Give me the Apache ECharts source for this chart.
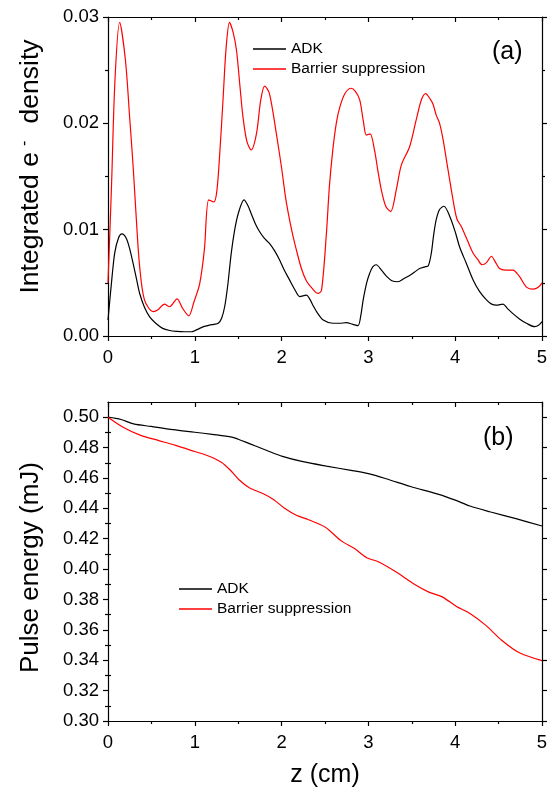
<!DOCTYPE html>
<html><head><meta charset="utf-8">
<script src="https://cdn.jsdelivr.net/npm/echarts@6/dist/echarts.min.js"></script>
<style>html,body{margin:0;padding:0;background:#fff}#c{width:551px;height:789px}</style>
</head><body><div id="c"></div>
<script>
// ---------- data ----------
const seriesNames = ['ADK', 'Barrier suppression'];

// panel (a): z (cm) vs integrated e- density
const densityADK = [[0,0.0015],[0.04,0.0050],[0.077,0.0078],[0.12,0.0092],[0.16,0.0096],[0.21,0.0092],[0.25,0.0082],[0.29,0.0068],[0.33,0.0053],[0.365,0.0040],[0.42,0.0027],[0.48,0.0018],[0.55,0.0012],[0.63,0.00072],[0.71,0.00052],[0.79,0.00044],[0.88,0.0004],[0.96,0.0004],[1.0,0.0005],[1.056,0.00072],[1.11,0.0009],[1.17,0.00103],[1.22,0.0011],[1.27,0.0012],[1.31,0.0017],[1.344,0.00275],[1.38,0.0048],[1.42,0.0078],[1.46,0.0100],[1.50,0.0115],[1.567,0.0128],[1.61,0.0123],[1.65,0.0115],[1.7,0.0105],[1.747,0.0098],[1.80,0.0092],[1.86,0.0087],[1.92,0.0080],[1.98,0.0071],[2.03,0.0062],[2.09,0.0053],[2.15,0.0044],[2.21,0.0037],[2.285,0.00385],[2.33,0.0034],[2.36,0.0029],[2.41,0.0022],[2.48,0.0015],[2.59,0.0012],[2.67,0.0012],[2.745,0.00125],[2.82,0.0011],[2.88,0.00097],[2.91,0.0018],[2.94,0.0034],[2.98,0.0050],[3.015,0.0059],[3.05,0.0065],[3.09,0.0067],[3.15,0.0062],[3.21,0.0056],[3.27,0.0052],[3.34,0.0051],[3.41,0.0054],[3.475,0.0057],[3.53,0.0060],[3.59,0.00635],[3.65,0.0065],[3.69,0.0066],[3.725,0.0078],[3.75,0.0094],[3.78,0.0109],[3.82,0.0119],[3.87,0.0122],[3.94,0.0112],[4.0,0.0098],[4.05,0.0084],[4.13,0.0068],[4.205,0.0053],[4.28,0.0042],[4.36,0.0034],[4.42,0.0030],[4.475,0.0029],[4.55,0.0030],[4.6,0.0026],[4.665,0.0021],[4.74,0.0016],[4.82,0.0012],[4.915,0.00088],[4.96,0.0010],[5.0,0.00135]];

const densityBS = [[0,0.0050],[0.04,0.0140],[0.08,0.0240],[0.134,0.0295],[0.2,0.0260],[0.25,0.0205],[0.29,0.0159],[0.33,0.0105],[0.365,0.0065],[0.42,0.0034],[0.52,0.0023],[0.58,0.0025],[0.65,0.0030],[0.71,0.00275],[0.795,0.0035],[0.86,0.0026],[0.93,0.0019],[0.99,0.0032],[1.056,0.0049],[1.11,0.0081],[1.16,0.0128],[1.22,0.0126],[1.255,0.0137],[1.29,0.0175],[1.325,0.0222],[1.36,0.0270],[1.40,0.0295],[1.44,0.0286],[1.48,0.0269],[1.52,0.0235],[1.555,0.0206],[1.6,0.0183],[1.65,0.0175],[1.71,0.0190],[1.76,0.0222],[1.805,0.0235],[1.86,0.0228],[1.94,0.0190],[2.0,0.0158],[2.05,0.0128],[2.11,0.0102],[2.17,0.0081],[2.23,0.0063],[2.285,0.0052],[2.35,0.0045],[2.42,0.0040],[2.46,0.0043],[2.516,0.0096],[2.55,0.0140],[2.59,0.0175],[2.63,0.0200],[2.67,0.0215],[2.73,0.0228],[2.80,0.0233],[2.85,0.0230],[2.90,0.0222],[2.94,0.0203],[2.977,0.0189],[3.02,0.0190],[3.07,0.0175],[3.11,0.0155],[3.15,0.0137],[3.2,0.0122],[3.257,0.0117],[3.32,0.0137],[3.38,0.0161],[3.475,0.0178],[3.55,0.0203],[3.61,0.0222],[3.66,0.0228],[3.71,0.0223],[3.745,0.0218],[3.78,0.0208],[3.82,0.0200],[3.86,0.0185],[3.90,0.0165],[3.975,0.0128],[4.02,0.0110],[4.07,0.0103],[4.14,0.0090],[4.205,0.0078],[4.26,0.0072],[4.31,0.0067],[4.36,0.0069],[4.417,0.0075],[4.46,0.0070],[4.51,0.00635],[4.58,0.0062],[4.665,0.0062],[4.74,0.0056],[4.82,0.0046],[4.90,0.0044],[4.96,0.0046],[5.0,0.0050]];

// panel (b): z (cm) vs pulse energy (mJ)
const energyADK = [[0,0.5000],[0.15,0.4985],[0.295,0.4956],[0.497,0.4939],[0.75,0.4918],[1.0,0.4901],[1.2,0.4887],[1.426,0.4869],[1.5,0.4855],[1.587,0.4836],[1.7,0.4810],[1.83,0.4781],[2.01,0.4742],[2.233,0.4709],[2.516,0.4678],[2.80,0.4650],[3.0,0.4628],[3.203,0.4595],[3.485,0.4544],[3.81,0.4492],[4.01,0.4452],[4.17,0.4415],[4.41,0.4376],[4.70,0.4332],[5.0,0.4284]];

const energyBS = [[0,0.5000],[0.174,0.4934],[0.376,0.4880],[0.578,0.4847],[0.78,0.4814],[1.0,0.4774],[1.143,0.4748],[1.305,0.4704],[1.405,0.4654],[1.506,0.4590],[1.628,0.4536],[1.79,0.4496],[1.91,0.4457],[2.03,0.4402],[2.17,0.4354],[2.31,0.4325],[2.50,0.4277],[2.68,0.4189],[2.84,0.4135],[2.98,0.4075],[3.12,0.4047],[3.32,0.3981],[3.53,0.3900],[3.69,0.3850],[3.85,0.3817],[4.01,0.3756],[4.17,0.3708],[4.35,0.3631],[4.535,0.3532],[4.74,0.3449],[5.0,0.3397]];

// tick labels
const zTicks = [0, 1, 2, 3, 4, 5];
const densityTicks = [0.00, 0.01, 0.02, 0.03];
const energyMajorTicks = [0.30, 0.32, 0.34, 0.36, 0.38, 0.40, 0.42, 0.44, 0.46, 0.48, 0.50];
const energyMinorTicks = [0.31, 0.33, 0.35, 0.37, 0.39, 0.41, 0.43, 0.45, 0.47, 0.49];
const energyMax = 0.51;

// ---------- chart ----------
const FONT = '"Liberation Sans", Arial, sans-serif';
const BLACK = '#000';
const RED = '#ff0000';
const AXW = 1.2;

function baseAxis(extra) {
  return Object.assign({
    type: 'value',
    splitLine: { show: false },
    axisLine: { show: true, onZero: false, lineStyle: { color: BLACK, width: AXW } },
    axisTick: { show: true, inside: false, length: 5, lineStyle: { color: BLACK, width: AXW } },
    minorTick: { show: false },
    axisLabel: { show: false }
  }, extra);
}
const labelStyle = { show: true, color: BLACK, fontSize: 18.5, fontFamily: FONT };
const minor = { show: true, splitNumber: 2, length: 3, lineStyle: { color: BLACK, width: AXW } };
const insideTick = { show: true, inside: true, length: 5, lineStyle: { color: BLACK, width: AXW } };

const xAxis = [
  baseAxis({ gridIndex: 0, position: 'bottom', min: zTicks[0], max: zTicks[zTicks.length - 1], interval: 1,
    minorTick: minor, axisLabel: Object.assign({ margin: 12 }, labelStyle) }),
  baseAxis({ gridIndex: 0, position: 'top', min: zTicks[0], max: zTicks[zTicks.length - 1], interval: 1,
    axisTick: insideTick, minorTick: minor }),
  baseAxis({ gridIndex: 1, position: 'bottom', min: zTicks[0], max: zTicks[zTicks.length - 1], interval: 1,
    minorTick: minor, axisLabel: Object.assign({ margin: 12 }, labelStyle),
    name: 'z (cm)', nameLocation: 'middle', nameGap: 42,
    nameTextStyle: { color: BLACK, fontSize: 25, fontFamily: FONT } }),
  baseAxis({ gridIndex: 1, position: 'top', min: zTicks[0], max: zTicks[zTicks.length - 1], interval: 1,
    axisTick: insideTick, minorTick: minor })
];

const yAxis = [
  baseAxis({ gridIndex: 0, position: 'left', min: densityTicks[0], max: densityTicks[densityTicks.length - 1], interval: 0.01,
    minorTick: minor,
    axisLabel: Object.assign({ margin: 9, formatter: v => v.toFixed(2) }, labelStyle),
    name: 'Integrated e{sup|-} density', nameLocation: 'middle', nameGap: 64,
    nameTextStyle: { color: BLACK, fontSize: 26.5, fontFamily: FONT, padding: [0, 0, 0, 20],
      rich: { sup: { fontSize: 16, fontFamily: FONT, color: BLACK, verticalAlign: 'top', padding: [0, 10, 0, 6] } } } }),
  baseAxis({ gridIndex: 0, position: 'right', min: densityTicks[0], max: densityTicks[densityTicks.length - 1], interval: 0.01,
    minorTick: minor }),
  baseAxis({ gridIndex: 1, position: 'left', min: energyMajorTicks[0], max: energyMax,
    axisTick: { show: true, inside: false, length: 5, customValues: energyMajorTicks, lineStyle: { color: BLACK, width: AXW } },
    axisLabel: Object.assign({ margin: 9, customValues: energyMajorTicks, formatter: v => v.toFixed(2) }, labelStyle),
    name: 'Pulse energy (mJ)', nameLocation: 'middle', nameGap: 64,
    nameTextStyle: { color: BLACK, fontSize: 26, fontFamily: FONT, padding: [0, 12, 0, 0] } }),
  baseAxis({ gridIndex: 1, position: 'left', min: energyMajorTicks[0], max: energyMax,
    axisLine: { show: false },
    axisTick: { show: true, inside: false, length: 3, customValues: energyMinorTicks, lineStyle: { color: BLACK, width: AXW } } }),
  baseAxis({ gridIndex: 1, position: 'right', min: energyMajorTicks[0], max: energyMax,
    axisTick: { show: true, inside: false, length: 5, customValues: energyMajorTicks, lineStyle: { color: BLACK, width: AXW } } }),
  baseAxis({ gridIndex: 1, position: 'right', min: energyMajorTicks[0], max: energyMax,
    axisLine: { show: false },
    axisTick: { show: true, inside: false, length: 3, customValues: energyMinorTicks, lineStyle: { color: BLACK, width: AXW } } })
];

function line(name, data, color, xi, yi) {
  return { type: 'line', name, data, xAxisIndex: xi, yAxisIndex: yi, symbol: 'none', smooth: 0.3,
    color, itemStyle: { color }, lineStyle: { color, width: 1.2 }, silent: true, animation: false };
}

const legendCommon = {
  orient: 'vertical', icon: 'rect', itemWidth: 33, itemHeight: 1.3, itemGap: 2, selectedMode: false,
  textStyle: { color: BLACK, fontSize: 15.5, fontFamily: FONT, lineHeight: 18 }, data: seriesNames
};

const option = {
  animation: false,
  backgroundColor: '#fff',
  grid: [
    { left: 108, top: 17, width: 434, height: 319 },
    { left: 108, top: 402, width: 434, height: 319 }
  ],
  xAxis, yAxis,
  legend: [
    Object.assign({ left: 248, top: 35 }, legendCommon),
    Object.assign({ left: 174, top: 575 }, legendCommon)
  ],
  graphic: [
    { type: 'text', left: 492, top: 40, style: { text: '(a)', fill: BLACK, font: '25px ' + FONT } },
    { type: 'text', left: 483, top: 426, style: { text: '(b)', fill: BLACK, font: '25px ' + FONT } }
  ],
  series: [
    line(seriesNames[0], densityADK, BLACK, 0, 0),
    line(seriesNames[1], densityBS, RED, 0, 0),
    line(seriesNames[0], energyADK, BLACK, 2, 2),
    line(seriesNames[1], energyBS, RED, 2, 2)
  ]
};

const chart = echarts.init(document.getElementById('c'), null, { renderer: 'canvas' });
chart.setOption(option);
</script>
</body></html>
